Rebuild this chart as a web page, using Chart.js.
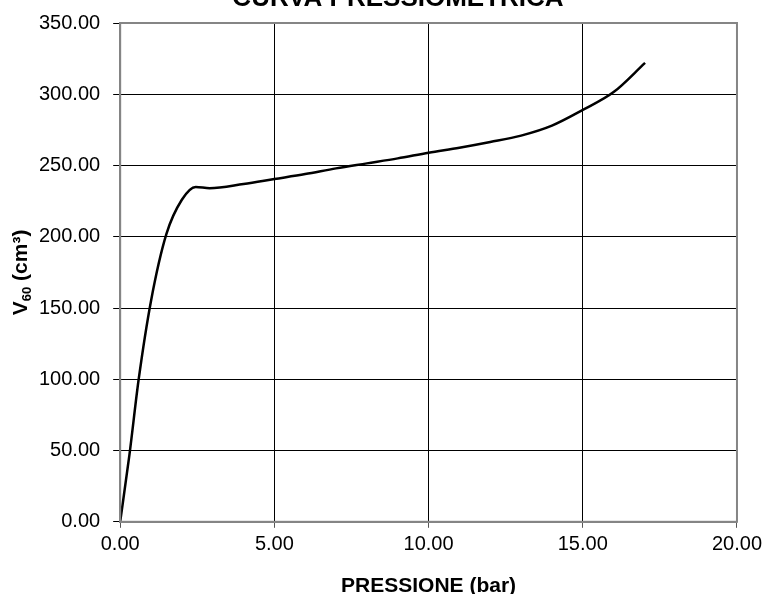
<!DOCTYPE html>
<html>
<head>
<meta charset="utf-8">
<script src="https://cdn.jsdelivr.net/npm/chart.js@4"></script>
<style>
  html, body { margin: 0; padding: 0; background: #fff; overflow: hidden; }
  #box { width: 767px; height: 594px; position: relative; }
</style>
</head>
<body>
<div id="box"><canvas id="myChart"></canvas></div>
<script>
// pressione (bar) and volume V60 (cm3)
const pressione = [0, 0.3, 0.6, 1.0, 1.5, 2.0, 2.45, 2.9, 4.0, 5.0, 6.0, 7.0, 8.0, 9.0, 10.0, 11.0, 12.0, 13.0, 14.0, 15.0, 16.0, 17.02];
const volume = [0, 47, 100, 155, 202, 226, 235, 234, 237, 240.5, 244, 248, 251.5, 255, 259, 262.5, 266.5, 271, 278, 289, 301.5, 322];
const xTicks = [0, 5, 10, 15, 20];
const yTicks = [0, 50, 100, 150, 200, 250, 300, 350];

const points = pressione.map((p, i) => ({ x: p, y: volume[i] }));
const font = 'Liberation Sans, Arial, sans-serif';

// grey frame, chart title (cut at the top edge) and the y title with its subscript
const extras = {
    id: 'extras',
    afterDatasetsDraw(chart) {
        const a = chart.chartArea;
        const c = chart.ctx;
        c.save();
        c.strokeStyle = '#858585';
        c.lineWidth = 2;
        c.strokeRect(a.left, a.top, a.right - a.left, a.bottom - a.top);

        c.fillStyle = '#000';
        c.textAlign = 'center';
        c.textBaseline = 'alphabetic';
        c.font = 'bold 26px ' + font;
        c.fillText('CURVA PRESSIOMETRICA', 398, 6);

        // y title, rotated
        const parts = [
            { t: 'V', f: 'bold 21px ' + font, dy: 0 },
            { t: '60', f: 'bold 13px ' + font, dy: 4 },
            { t: ' (cm\u00b3)', f: 'bold 21px ' + font, dy: 0 }
        ];
        let w = 0;
        parts.forEach(p => { c.font = p.f; w += c.measureText(p.t).width; });
        c.translate(27, (a.top + a.bottom) / 2);
        c.rotate(-Math.PI / 2);
        c.textAlign = 'left';
        let x = -w / 2;
        parts.forEach(p => {
            c.font = p.f;
            c.fillText(p.t, x, p.dy);
            x += c.measureText(p.t).width;
        });
        c.restore();
    }
};

const ctx = document.getElementById('myChart').getContext('2d');
const myChart = new Chart(ctx, {
    type: 'line',
    data: {
        datasets: [{
            data: points,
            borderColor: '#000',
            borderWidth: 2.5,
            pointRadius: 0,
            fill: false,
            cubicInterpolationMode: 'monotone'
        }]
    },
    options: {
        responsive: true,
        maintainAspectRatio: false,
        animation: false,
        layout: { padding: { left: 26, right: 0, top: 22, bottom: -5 } },
        plugins: {
            legend: { display: false },
            tooltip: { enabled: false },
            title: { display: false }
        },
        scales: {
            x: {
                type: 'linear',
                min: 0,
                max: 20,
                afterBuildTicks: axis => { axis.ticks = xTicks.map(v => ({ value: v })); },
                ticks: {
                    color: '#000',
                    font: { family: font, size: 20 },
                    padding: 5,
                    maxRotation: 0,
                    callback: v => v.toFixed(2)
                },
                grid: { color: '#000', lineWidth: 1, tickLength: 6, tickColor: '#555' },
                border: { color: '#858585', width: 2 },
                title: {
                    display: true,
                    text: 'PRESSIONE (bar)',
                    color: '#000',
                    font: { family: font, size: 21, weight: 'bold' },
                    padding: { top: 12, bottom: 0 }
                }
            },
            y: {
                type: 'linear',
                min: 0,
                max: 350,
                afterBuildTicks: axis => { axis.ticks = yTicks.map(v => ({ value: v })); },
                ticks: {
                    color: '#000',
                    font: { family: font, size: 20, lineHeight: 1 },
                    padding: 13,
                    callback: v => v.toFixed(2)
                },
                grid: { color: '#000', lineWidth: 1, tickLength: 7, tickColor: '#000' },
                border: { color: '#858585', width: 2 }
            }
        }
    },
    plugins: [extras]
});
</script>
</body>
</html>
